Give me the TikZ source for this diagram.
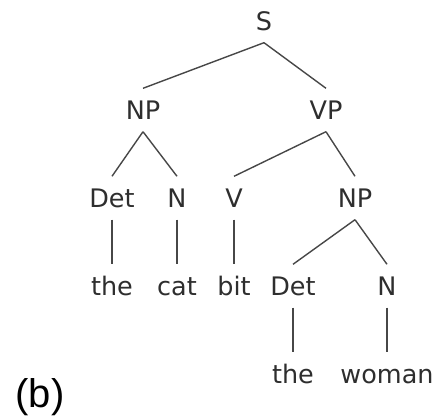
\documentclass[tikz,border=0pt]{standalone}
\usepackage{fontspec}
\setmainfont{DejaVu Sans}
\newfontfamily\labfont{Liberation Sans}
\definecolor{txt}{HTML}{2E2E2E}
\definecolor{edge}{HTML}{474747}
\begin{document}
\begin{tikzpicture}[x=1pt,y=-1pt,
  lbl/.style={font=\fontsize{25.5}{27}\selectfont, text=txt, text height=18pt, text depth=0pt, inner xsep=2pt, inner ysep=12.5pt},
  br/.style={draw=edge, line width=1.4pt}]
\useasboundingbox (0,0) rectangle (436,418);
% rows: baselines 30,119,207,295,383 -> centers baseline-9
\node[lbl] (S)   at (264,21)  {S};
\node[lbl] (NP1) at (143,110) {NP};
\node[lbl] (VP)  at (326,110) {VP};
\node[lbl] (Det1) at (112,198) {Det};
\node[lbl] (N1)  at (177,198) {N};
\node[lbl] (V)   at (234,198) {V};
\node[lbl] (NP2) at (355,198) {NP};
\node[lbl] (the1) at (112,286) {the};
\node[lbl] (cat) at (177,286) {cat};
\node[lbl] (bit) at (234,286) {bit};
\node[lbl] (Det2) at (293,286) {Det};
\node[lbl] (N2)  at (387,286) {N};
\node[lbl] (the2) at (293,374) {the};
\node[lbl] (woman) at (387,374) {woman};
\node[font=\labfont\fontsize{40}{44}\selectfont, anchor=base, inner sep=0pt] (lab) at (40,407) {(b)};
\draw[br] (S.south) -- (NP1.north);
\draw[br] (S.south) -- (VP.north);
\draw[br] (NP1.south) -- (Det1.north);
\draw[br] (NP1.south) -- (N1.north);
\draw[br] (VP.south) -- (V.north);
\draw[br] (VP.south) -- (NP2.north);
\draw[br] (Det1.south) -- (the1.north);
\draw[br] (N1.south) -- (cat.north);
\draw[br] (V.south) -- (bit.north);
\draw[br] (NP2.south) -- (Det2.north);
\draw[br] (NP2.south) -- (N2.north);
\draw[br] (Det2.south) -- (the2.north);
\draw[br] (N2.south) -- (woman.north);
\end{tikzpicture}
\end{document}
